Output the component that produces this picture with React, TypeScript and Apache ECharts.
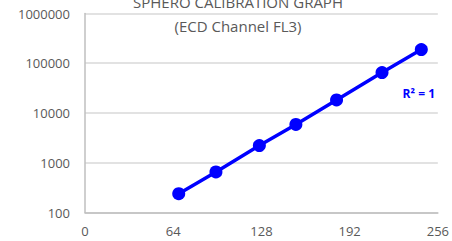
import React, { useEffect, useRef } from "react";
import * as echarts from "echarts";

const channels = [68, 95, 126.5, 153, 182.5, 215.5, 244];
const intensities = [239, 652, 2220, 5900, 18300, 65000, 188000];
const xTicks = [0, 64, 128, 192, 256];
const yRange = [100, 1000000];
const titleLines = ["SPHERO CALIBRATION GRAPH", "(ECD Channel FL3)"];
const rSquaredLabel = "R² = 1";

export default function App() {
  const ref = useRef<HTMLDivElement>(null);
  useEffect(() => {
    if (!ref.current) return;
    const chart = echarts.init(ref.current, null, { renderer: "svg" });
    const font = "'Open Sans', 'Liberation Sans', sans-serif";
    chart.setOption({
      animation: false,
      backgroundColor: "#ffffff",
      grid: { left: 85, right: 13, top: 13.5, bottom: 28.5 },
      xAxis: {
        type: "value",
        min: xTicks[0],
        max: xTicks[xTicks.length - 1],
        interval: 64,
        axisLine: { show: true, lineStyle: { color: "#bfbfbf", width: 1.5 } },
        axisTick: { show: false },
        splitLine: { show: false },
        axisLabel: { color: "#595959", fontSize: 13, fontFamily: font, margin: 12 },
      },
      yAxis: {
        type: "log",
        logBase: 10,
        min: yRange[0],
        max: yRange[1],
        axisLine: { show: true, lineStyle: { color: "#bfbfbf", width: 1.5 } },
        axisTick: { show: false },
        splitLine: { show: true, lineStyle: { color: "#d9d9d9", width: 1.5 } },
        axisLabel: {
          color: "#595959",
          fontSize: 13,
          fontFamily: font,
          margin: 15,
          formatter: (v: number) => String(Math.round(v)),
        },
      },
      graphic: [
        {
          type: "text",
          x: 238,
          y: 2,
          style: {
            text: titleLines[0],
            fill: "#595959",
            font: `15px ${font}`,
            textAlign: "center",
            textVerticalAlign: "middle",
          },
        },
        {
          type: "text",
          x: 238,
          y: 26,
          style: {
            text: titleLines[1],
            fill: "#595959",
            font: `15px ${font}`,
            textAlign: "center",
            textVerticalAlign: "middle",
          },
        },
        {
          type: "text",
          x: 435,
          y: 93,
          style: {
            text: rSquaredLabel,
            fill: "#0000ff",
            font: `bold 12px ${font}`,
            textAlign: "right",
            textVerticalAlign: "middle",
          },
        },
      ],
      series: [
        {
          type: "line",
          data: channels.map((c, i) => [c, intensities[i]]),
          symbol: "circle",
          symbolSize: 13,
          itemStyle: { color: "#0000ff" },
          lineStyle: { color: "#0000ff", width: 3.5 },
        },
      ],
    });
    return () => chart.dispose();
  }, []);
  return <div ref={ref} style={{ width: 452, height: 241, position: "absolute", left: 0, top: 0 }} />;
}
